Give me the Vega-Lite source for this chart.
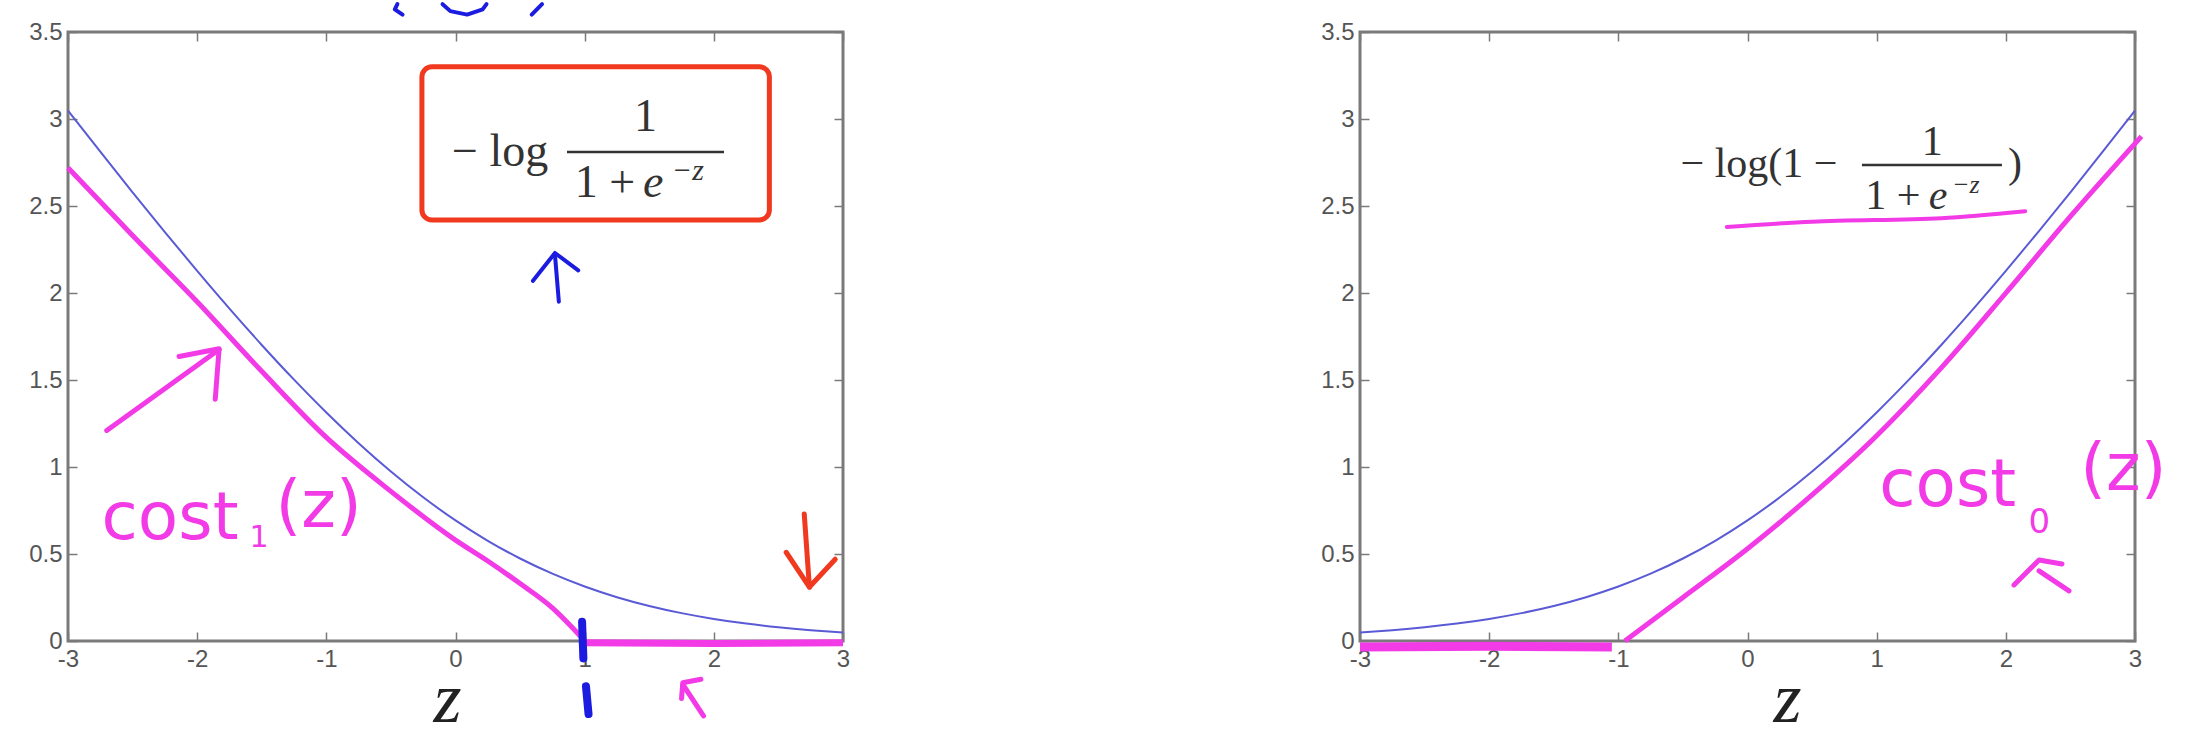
{
  "$schema": "https://vega.github.io/schema/vega-lite/v6.json",
  "background": "white",
  "padding": {"left": 27, "top": 0, "right": 0, "bottom": 0},
  "spacing": 517,
  "bounds": "flush",
  "config": {
    "view": {"stroke": "#7a7a7a", "strokeWidth": 3},
    "axis": {
      "grid": false,
      "domain": false,
      "ticks": true,
      "tickSize": -9,
      "tickColor": "#7a7a7a",
      "tickWidth": 1.5,
      "labelFont": "Liberation Sans",
      "labelFontSize": 24,
      "labelColor": "#555555",
      "labelPadding": 15,
      "labelFlush": false,
      "labelOverlap": false
    }
  },
  "datasets": {
    "left_blue": [
      {"z": -3, "v": 3.0486}, {"z": -2.75, "v": 2.812}, {"z": -2.5, "v": 2.5789}, {"z": -2.25, "v": 2.3502},
      {"z": -2, "v": 2.1269}, {"z": -1.75, "v": 1.9102}, {"z": -1.5, "v": 1.7014}, {"z": -1.25, "v": 1.5019},
      {"z": -1, "v": 1.3133}, {"z": -0.75, "v": 1.1369}, {"z": -0.5, "v": 0.9741}, {"z": -0.25, "v": 0.8259},
      {"z": 0, "v": 0.6931}, {"z": 0.25, "v": 0.5759}, {"z": 0.5, "v": 0.4741}, {"z": 0.75, "v": 0.3869},
      {"z": 1, "v": 0.3133}, {"z": 1.25, "v": 0.2519}, {"z": 1.5, "v": 0.2014}, {"z": 1.75, "v": 0.1602},
      {"z": 2, "v": 0.1269}, {"z": 2.25, "v": 0.1002}, {"z": 2.5, "v": 0.0789}, {"z": 2.75, "v": 0.062},
      {"z": 3, "v": 0.0486}
    ],
    "right_blue": [
      {"z": -3, "v": 0.0486}, {"z": -2.75, "v": 0.062}, {"z": -2.5, "v": 0.0789}, {"z": -2.25, "v": 0.1002},
      {"z": -2, "v": 0.1269}, {"z": -1.75, "v": 0.1602}, {"z": -1.5, "v": 0.2014}, {"z": -1.25, "v": 0.2519},
      {"z": -1, "v": 0.3133}, {"z": -0.75, "v": 0.3869}, {"z": -0.5, "v": 0.4741}, {"z": -0.25, "v": 0.5759},
      {"z": 0, "v": 0.6931}, {"z": 0.25, "v": 0.8259}, {"z": 0.5, "v": 0.9741}, {"z": 0.75, "v": 1.1369},
      {"z": 1, "v": 1.3133}, {"z": 1.25, "v": 1.5019}, {"z": 1.5, "v": 1.7014}, {"z": 1.75, "v": 1.9102},
      {"z": 2, "v": 2.1269}, {"z": 2.25, "v": 2.3502}, {"z": 2.5, "v": 2.5789}, {"z": 2.75, "v": 2.812},
      {"z": 3, "v": 3.0486}
    ],
    "left_mag_curve": [
      {"z": -3, "v": 2.72}, {"z": -2.5, "v": 2.33}, {"z": -2, "v": 1.95}, {"z": -1.5, "v": 1.55},
      {"z": -1, "v": 1.17}, {"z": -0.5, "v": 0.86}, {"z": 0, "v": 0.58}, {"z": 0.25, "v": 0.46},
      {"z": 0.5, "v": 0.33}, {"z": 0.75, "v": 0.19}, {"z": 0.9, "v": 0.08}, {"z": 1.0, "v": 0.0}
    ],
    "left_mag_flat": [
      {"z": 1.0, "v": -0.01}, {"z": 2, "v": -0.015}, {"z": 3, "v": -0.01}
    ],
    "right_mag_flat": [
      {"z": -3, "v": -0.035}, {"z": -2, "v": -0.03}, {"z": -1.05, "v": -0.035}
    ],
    "right_mag_curve": [
      {"z": -0.95, "v": 0}, {"z": -0.5, "v": 0.25}, {"z": 0, "v": 0.53}, {"z": 0.5, "v": 0.84},
      {"z": 1, "v": 1.18}, {"z": 1.5, "v": 1.57}, {"z": 2, "v": 2.0}, {"z": 2.5, "v": 2.44},
      {"z": 3.05, "v": 2.9}
    ],
    "left_blue_ink": [
      {"s": "a1", "o": 1, "z": 0.8, "v": 1.95}, {"s": "a1", "o": 2, "z": 0.77, "v": 2.22},
      {"s": "a2", "o": 1, "z": 0.6, "v": 2.07}, {"s": "a2", "o": 2, "z": 0.77, "v": 2.23}, {"s": "a2", "o": 3, "z": 0.95, "v": 2.13},
      {"s": "t1", "o": 1, "z": -0.45, "v": 3.66}, {"s": "t1", "o": 2, "z": -0.47, "v": 3.63}, {"s": "t1", "o": 3, "z": -0.41, "v": 3.6},
      {"s": "t2", "o": 1, "z": -0.1, "v": 3.66}, {"s": "t2", "o": 2, "z": -0.04, "v": 3.62}, {"s": "t2", "o": 3, "z": 0.09, "v": 3.6},
      {"s": "t2", "o": 4, "z": 0.21, "v": 3.63}, {"s": "t2", "o": 5, "z": 0.24, "v": 3.66},
      {"s": "t3", "o": 1, "z": 0.67, "v": 3.66}, {"s": "t3", "o": 2, "z": 0.59, "v": 3.6}
    ],
    "left_blue_dash": [
      {"s": "d1", "o": 1, "z": 0.98, "v": 0.11}, {"s": "d1", "o": 2, "z": 0.99, "v": -0.1},
      {"s": "d2", "o": 1, "z": 1.01, "v": -0.26}, {"s": "d2", "o": 2, "z": 1.03, "v": -0.42}
    ],
    "left_mag_ink": [
      {"s": "m1", "o": 1, "z": -2.7, "v": 1.21}, {"s": "m1", "o": 2, "z": -1.83, "v": 1.675},
      {"s": "m2", "o": 1, "z": -2.14, "v": 1.635}, {"s": "m2", "o": 2, "z": -1.83, "v": 1.68}, {"s": "m2", "o": 3, "z": -1.86, "v": 1.39},
      {"s": "m3", "o": 1, "z": 1.92, "v": -0.43}, {"s": "m3", "o": 2, "z": 1.76, "v": -0.25},
      {"s": "m4", "o": 1, "z": 1.75, "v": -0.33}, {"s": "m4", "o": 2, "z": 1.76, "v": -0.24}, {"s": "m4", "o": 3, "z": 1.9, "v": -0.22}
    ],
    "left_red_ink": [
      {"s": "r1", "o": 1, "z": 2.7, "v": 0.73}, {"s": "r1", "o": 2, "z": 2.74, "v": 0.31},
      {"s": "r2", "o": 1, "z": 2.56, "v": 0.51}, {"s": "r2", "o": 2, "z": 2.74, "v": 0.31}, {"s": "r2", "o": 3, "z": 2.94, "v": 0.47}
    ],
    "left_box": [{"z1": -0.26, "z2": 2.43, "v1": 2.42, "v2": 3.3}],
    "left_formula_big": [
      {"t": "− log", "z": 0.345, "v": 2.81},
      {"t": "1", "z": 1.47, "v": 3.01},
      {"t": "1 +", "z": 1.157, "v": 2.63}
    ],
    "left_formula_e": [{"t": "e", "z": 1.53, "v": 2.63}],
    "left_formula_sup": [{"t": "−z", "z": 1.8, "v": 2.7}],
    "left_bar": [{"z1": 0.863, "z2": 2.079, "v": 2.81}],
    "left_hand": [{"t": "cost", "z": -2.21, "v": 0.7}, {"t": "(z)", "z": -1.06, "v": 0.77}],
    "left_hand_sub": [{"t": "1", "z": -1.52, "v": 0.59}],
    "right_formula_big": [
      {"t": "− log(1 −", "z": 0.089, "v": 2.74},
      {"t": "1", "z": 1.43, "v": 2.87},
      {"t": "1 +", "z": 1.126, "v": 2.56},
      {"t": ")", "z": 2.07, "v": 2.74}
    ],
    "right_formula_e": [{"t": "e", "z": 1.475, "v": 2.56}],
    "right_formula_sup": [{"t": "−z", "z": 1.69, "v": 2.62}],
    "right_bar": [{"z1": 0.886, "z2": 1.97, "v": 2.735}],
    "right_mag_ink": [
      {"s": "u", "o": 1, "z": -0.16, "v": 2.38}, {"s": "u", "o": 2, "z": 0.5, "v": 2.41},
      {"s": "u", "o": 3, "z": 1.5, "v": 2.43}, {"s": "u", "o": 4, "z": 2.15, "v": 2.47}
    ],
    "right_mag_arrow": [
      {"s": "k1", "o": 1, "z": 2.063, "v": 0.322}, {"s": "k1", "o": 2, "z": 2.257, "v": 0.466}, {"s": "k1", "o": 3, "z": 2.435, "v": 0.443},
      {"s": "k2", "o": 1, "z": 2.257, "v": 0.403}, {"s": "k2", "o": 2, "z": 2.489, "v": 0.288}
    ],
    "right_hand": [{"t": "cost", "z": 1.55, "v": 0.89}, {"t": "(z)", "z": 2.91, "v": 0.98}],
    "right_hand_sub": [{"t": "0", "z": 2.26, "v": 0.68}]
  },
  "hconcat": [
    {
      "width": 775,
      "height": 609,
      "resolve": {"axis": {"x": "independent", "y": "independent"}},
      "layer": [
        {
          "data": {"name": "left_blue"},
          "mark": {"type": "line", "color": "#5a5ad6", "strokeWidth": 2, "interpolate": "monotone"},
          "encoding": {
            "x": {"field": "z", "type": "quantitative", "scale": {"domain": [-3, 3], "nice": false, "zero": false},
              "axis": {"orient": "bottom", "values": [-3, -2, -1, 0, 1, 2, 3], "labelExpr": "toString(datum.value)",
                "title": "z", "titleX": 379, "titleY": 80, "titleBaseline": "alphabetic", "titleAlign": "center",
                "titleFont": "Liberation Serif", "titleFontStyle": "italic", "titleFontWeight": "normal", "titleFontSize": 72, "titleColor": "#222222"}},
            "y": {"field": "v", "type": "quantitative", "scale": {"domain": [0, 3.5], "nice": false, "zero": false},
              "axis": {"orient": "left", "values": [0, 0.5, 1, 1.5, 2, 2.5, 3, 3.5], "labelExpr": "toString(datum.value)", "title": null}}
          }
        },
        {
          "data": {"name": "left_mag_curve"},
          "mark": {"type": "line", "color": "#f23be6", "strokeWidth": 5, "interpolate": "monotone"},
          "encoding": {
            "x": {"field": "z", "type": "quantitative", "axis": {"orient": "top", "labels": false, "title": null, "values": [-3, -2, -1, 0, 1, 2, 3]}},
            "y": {"field": "v", "type": "quantitative", "axis": {"orient": "right", "labels": false, "title": null, "values": [0, 0.5, 1, 1.5, 2, 2.5, 3, 3.5]}}
          }
        },
        {
          "data": {"name": "left_mag_flat"},
          "mark": {"type": "line", "color": "#f23be6", "strokeWidth": 7},
          "encoding": {
            "x": {"field": "z", "type": "quantitative", "axis": null},
            "y": {"field": "v", "type": "quantitative", "axis": null}
          }
        },
        {
          "data": {"name": "left_box"},
          "mark": {"type": "rect", "fillOpacity": 0, "stroke": "#f0391f", "strokeWidth": 5, "cornerRadius": 10},
          "encoding": {
            "x": {"field": "z1", "type": "quantitative", "axis": null},
            "x2": {"field": "z2"},
            "y": {"field": "v1", "type": "quantitative", "axis": null},
            "y2": {"field": "v2"}
          }
        },
        {
          "data": {"name": "left_bar"},
          "mark": {"type": "rule", "color": "#333333", "strokeWidth": 2.5},
          "encoding": {
            "x": {"field": "z1", "type": "quantitative", "axis": null},
            "x2": {"field": "z2"},
            "y": {"field": "v", "type": "quantitative", "axis": null}
          }
        },
        {
          "data": {"name": "left_formula_big"},
          "mark": {"type": "text", "font": "Liberation Serif", "fontSize": 46, "color": "#333333", "align": "center", "baseline": "middle"},
          "encoding": {
            "x": {"field": "z", "type": "quantitative", "axis": null},
            "y": {"field": "v", "type": "quantitative", "axis": null},
            "text": {"field": "t"}
          }
        },
        {
          "data": {"name": "left_formula_e"},
          "mark": {"type": "text", "font": "Liberation Serif", "fontSize": 46, "fontStyle": "italic", "color": "#333333", "align": "center", "baseline": "middle"},
          "encoding": {
            "x": {"field": "z", "type": "quantitative", "axis": null},
            "y": {"field": "v", "type": "quantitative", "axis": null},
            "text": {"field": "t"}
          }
        },
        {
          "data": {"name": "left_formula_sup"},
          "mark": {"type": "text", "font": "Liberation Serif", "fontSize": 30, "fontStyle": "italic", "color": "#333333", "align": "center", "baseline": "middle"},
          "encoding": {
            "x": {"field": "z", "type": "quantitative", "axis": null},
            "y": {"field": "v", "type": "quantitative", "axis": null},
            "text": {"field": "t"}
          }
        },
        {
          "data": {"name": "left_blue_ink"},
          "mark": {"type": "line", "color": "#1c1ce0", "strokeWidth": 4, "strokeCap": "round", "strokeJoin": "round"},
          "encoding": {
            "x": {"field": "z", "type": "quantitative", "axis": null},
            "y": {"field": "v", "type": "quantitative", "axis": null},
            "detail": {"field": "s"},
            "order": {"field": "o"}
          }
        },
        {
          "data": {"name": "left_blue_dash"},
          "mark": {"type": "line", "color": "#1c1ce0", "strokeWidth": 8, "strokeCap": "round"},
          "encoding": {
            "x": {"field": "z", "type": "quantitative", "axis": null},
            "y": {"field": "v", "type": "quantitative", "axis": null},
            "detail": {"field": "s"},
            "order": {"field": "o"}
          }
        },
        {
          "data": {"name": "left_mag_ink"},
          "mark": {"type": "line", "color": "#f23be6", "strokeWidth": 5, "strokeCap": "round", "strokeJoin": "round"},
          "encoding": {
            "x": {"field": "z", "type": "quantitative", "axis": null},
            "y": {"field": "v", "type": "quantitative", "axis": null},
            "detail": {"field": "s"},
            "order": {"field": "o"}
          }
        },
        {
          "data": {"name": "left_red_ink"},
          "mark": {"type": "line", "color": "#f0391f", "strokeWidth": 5, "strokeCap": "round", "strokeJoin": "round"},
          "encoding": {
            "x": {"field": "z", "type": "quantitative", "axis": null},
            "y": {"field": "v", "type": "quantitative", "axis": null},
            "detail": {"field": "s"},
            "order": {"field": "o"}
          }
        },
        {
          "data": {"name": "left_hand"},
          "mark": {"type": "text", "font": "DejaVu Sans", "fontSize": 66, "color": "#f23be6", "align": "center", "baseline": "middle"},
          "encoding": {
            "x": {"field": "z", "type": "quantitative", "axis": null},
            "y": {"field": "v", "type": "quantitative", "axis": null},
            "text": {"field": "t"}
          }
        },
        {
          "data": {"name": "left_hand_sub"},
          "mark": {"type": "text", "font": "DejaVu Sans", "fontSize": 30, "color": "#f23be6", "align": "center", "baseline": "middle"},
          "encoding": {
            "x": {"field": "z", "type": "quantitative", "axis": null},
            "y": {"field": "v", "type": "quantitative", "axis": null},
            "text": {"field": "t"}
          }
        }
      ]
    },
    {
      "width": 775,
      "height": 609,
      "resolve": {"axis": {"x": "independent", "y": "independent"}},
      "layer": [
        {
          "data": {"name": "right_blue"},
          "mark": {"type": "line", "color": "#5a5ad6", "strokeWidth": 2, "interpolate": "monotone"},
          "encoding": {
            "x": {"field": "z", "type": "quantitative", "scale": {"domain": [-3, 3], "nice": false, "zero": false},
              "axis": {"orient": "bottom", "values": [-3, -2, -1, 0, 1, 2, 3], "labelExpr": "toString(datum.value)",
                "title": "z", "titleX": 427, "titleY": 80, "titleBaseline": "alphabetic", "titleAlign": "center",
                "titleFont": "Liberation Serif", "titleFontStyle": "italic", "titleFontWeight": "normal", "titleFontSize": 72, "titleColor": "#222222"}},
            "y": {"field": "v", "type": "quantitative", "scale": {"domain": [0, 3.5], "nice": false, "zero": false},
              "axis": {"orient": "left", "values": [0, 0.5, 1, 1.5, 2, 2.5, 3, 3.5], "labelExpr": "toString(datum.value)", "title": null}}
          }
        },
        {
          "data": {"name": "right_mag_curve"},
          "mark": {"type": "line", "color": "#f23be6", "strokeWidth": 5, "interpolate": "monotone"},
          "encoding": {
            "x": {"field": "z", "type": "quantitative", "axis": {"orient": "top", "labels": false, "title": null, "values": [-3, -2, -1, 0, 1, 2, 3]}},
            "y": {"field": "v", "type": "quantitative", "axis": {"orient": "right", "labels": false, "title": null, "values": [0, 0.5, 1, 1.5, 2, 2.5, 3, 3.5]}}
          }
        },
        {
          "data": {"name": "right_mag_flat"},
          "mark": {"type": "line", "color": "#f23be6", "strokeWidth": 9},
          "encoding": {
            "x": {"field": "z", "type": "quantitative", "axis": null},
            "y": {"field": "v", "type": "quantitative", "axis": null}
          }
        },
        {
          "data": {"name": "right_bar"},
          "mark": {"type": "rule", "color": "#333333", "strokeWidth": 2.5},
          "encoding": {
            "x": {"field": "z1", "type": "quantitative", "axis": null},
            "x2": {"field": "z2"},
            "y": {"field": "v", "type": "quantitative", "axis": null}
          }
        },
        {
          "data": {"name": "right_formula_big"},
          "mark": {"type": "text", "font": "Liberation Serif", "fontSize": 42, "color": "#333333", "align": "center", "baseline": "middle"},
          "encoding": {
            "x": {"field": "z", "type": "quantitative", "axis": null},
            "y": {"field": "v", "type": "quantitative", "axis": null},
            "text": {"field": "t"}
          }
        },
        {
          "data": {"name": "right_formula_e"},
          "mark": {"type": "text", "font": "Liberation Serif", "fontSize": 42, "fontStyle": "italic", "color": "#333333", "align": "center", "baseline": "middle"},
          "encoding": {
            "x": {"field": "z", "type": "quantitative", "axis": null},
            "y": {"field": "v", "type": "quantitative", "axis": null},
            "text": {"field": "t"}
          }
        },
        {
          "data": {"name": "right_formula_sup"},
          "mark": {"type": "text", "font": "Liberation Serif", "fontSize": 26, "fontStyle": "italic", "color": "#333333", "align": "center", "baseline": "middle"},
          "encoding": {
            "x": {"field": "z", "type": "quantitative", "axis": null},
            "y": {"field": "v", "type": "quantitative", "axis": null},
            "text": {"field": "t"}
          }
        },
        {
          "data": {"name": "right_mag_ink"},
          "mark": {"type": "line", "color": "#f23be6", "strokeWidth": 4, "strokeCap": "round", "strokeJoin": "round", "interpolate": "monotone"},
          "encoding": {
            "x": {"field": "z", "type": "quantitative", "axis": null},
            "y": {"field": "v", "type": "quantitative", "axis": null},
            "detail": {"field": "s"},
            "order": {"field": "o"}
          }
        },
        {
          "data": {"name": "right_mag_arrow"},
          "mark": {"type": "line", "color": "#f23be6", "strokeWidth": 5, "strokeCap": "round", "strokeJoin": "round"},
          "encoding": {
            "x": {"field": "z", "type": "quantitative", "axis": null},
            "y": {"field": "v", "type": "quantitative", "axis": null},
            "detail": {"field": "s"},
            "order": {"field": "o"}
          }
        },
        {
          "data": {"name": "right_hand"},
          "mark": {"type": "text", "font": "DejaVu Sans", "fontSize": 66, "color": "#f23be6", "align": "center", "baseline": "middle"},
          "encoding": {
            "x": {"field": "z", "type": "quantitative", "axis": null},
            "y": {"field": "v", "type": "quantitative", "axis": null},
            "text": {"field": "t"}
          }
        },
        {
          "data": {"name": "right_hand_sub"},
          "mark": {"type": "text", "font": "DejaVu Sans", "fontSize": 34, "color": "#f23be6", "align": "center", "baseline": "middle"},
          "encoding": {
            "x": {"field": "z", "type": "quantitative", "axis": null},
            "y": {"field": "v", "type": "quantitative", "axis": null},
            "text": {"field": "t"}
          }
        }
      ]
    }
  ]
}
